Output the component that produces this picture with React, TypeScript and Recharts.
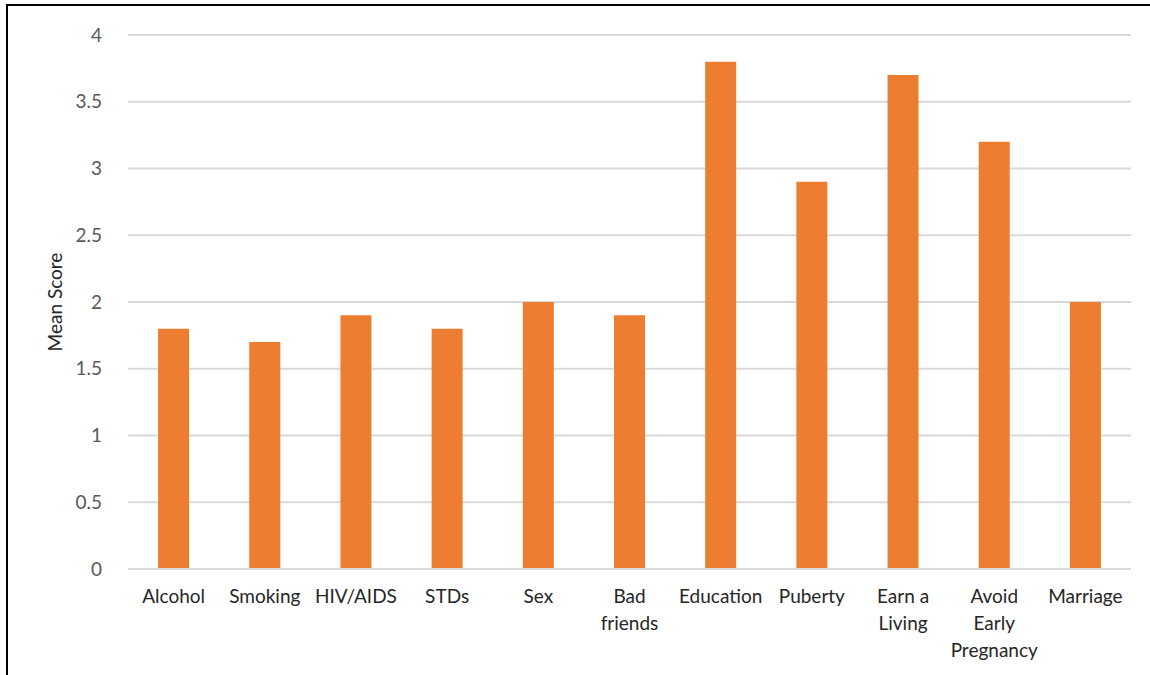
import { BarChart, Bar, XAxis, YAxis, CartesianGrid } from "recharts";

const categories = [
  "Alcohol",
  "Smoking",
  "HIV/AIDS",
  "STDs",
  "Sex",
  "Bad\nfriends",
  "Education",
  "Puberty",
  "Earn a\nLiving",
  "Avoid\nEarly\nPregnancy",
  "Marriage",
];
const meanScores = [1.8, 1.7, 1.9, 1.8, 2.0, 1.9, 3.8, 2.9, 3.7, 3.2, 2.0];
const yTicks = [0, 0.5, 1, 1.5, 2, 2.5, 3, 3.5, 4];

const data = categories.map((name, i) => ({ name, score: meanScores[i] }));

const FONT = "Lato, 'Open Sans', sans-serif";

function CategoryTick(props: any) {
  const { x, y, payload } = props;
  const lines = String(payload.value).split("\n");
  return (
    <g transform={`translate(${x},${y})`}>
      {lines.map((line: string, i: number) => (
        <text
          key={i}
          x={0}
          y={i * 27 + 13}
          dy="0.71em"
          textAnchor="middle"
          fontSize={19}
          fontFamily={FONT}
          fill="#262626"
        >
          {line}
        </text>
      ))}
    </g>
  );
}

export default function App() {
  return (
    <div
      style={{
        position: "absolute",
        left: 0,
        top: 0,
        width: 1150,
        height: 675,
        overflow: "hidden",
        background: "#fff",
      }}
    >
      <div
        style={{
          position: "absolute",
          left: 6,
          top: 4,
          width: 1200,
          height: 720,
          border: "2px solid #000",
        }}
      />
      <div style={{ position: "absolute", left: 0, top: 0 }}>
        <BarChart
          width={1150}
          height={675}
          data={data}
          margin={{ top: 35, right: 19, bottom: 0, left: 0 }}
          barCategoryGap="33%"
        >
          <CartesianGrid vertical={false} stroke="#D9D9D9" strokeWidth={2} />
          <XAxis
            dataKey="name"
            interval={0}
            height={106}
            tickLine={false}
            axisLine={{ stroke: "#D9D9D9", strokeWidth: 2 }}
            tick={<CategoryTick />}
          />
          <YAxis
            width={128}
            domain={[0, 4]}
            ticks={yTicks}
            interval={0}
            axisLine={false}
            tickLine={false}
            tickMargin={20}
            tick={{ fontSize: 19, fill: "#595959", fontFamily: FONT }}
            label={{
              value: "Mean Score",
              angle: -90,
              position: "insideLeft",
              offset: 55,
              style: {
                textAnchor: "middle",
                fontSize: 19,
                fill: "#262626",
                fontFamily: FONT,
              },
            }}
          />
          <Bar dataKey="score" fill="#ED7D31" isAnimationActive={false} />
        </BarChart>
      </div>
    </div>
  );
}
